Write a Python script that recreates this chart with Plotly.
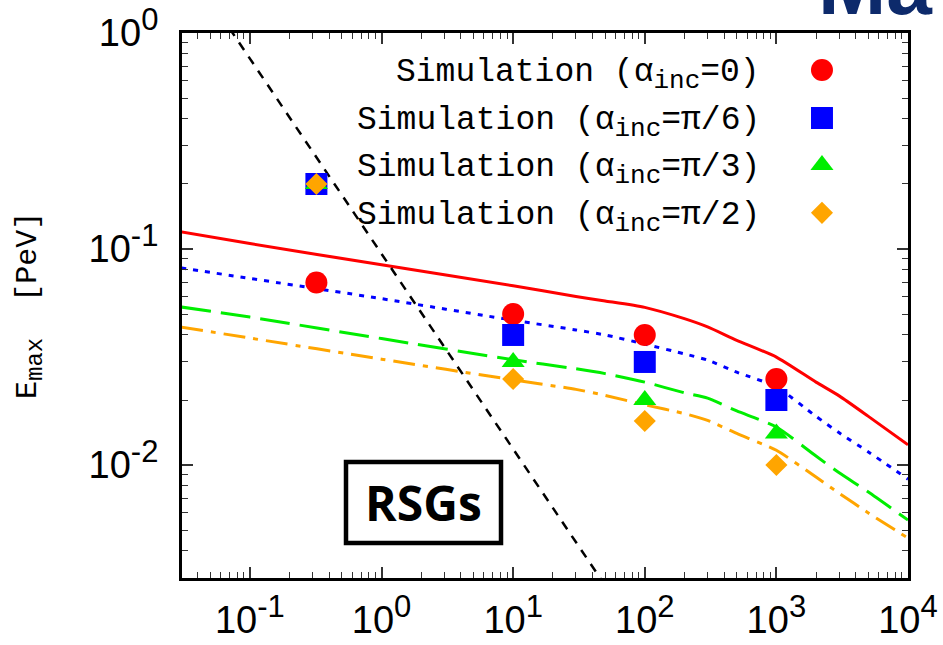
import plotly.graph_objects as go

# ---------------- data ----------------
sim_x = [0.32, 10, 100, 1000]
sim_a0 = [0.07, 0.05, 0.04, 0.025]
sim_a6 = [0.2, 0.04, 0.03, 0.02]
sim_a3 = [0.2, 0.03, 0.02, 0.014]
sim_a2 = [0.2, 0.025, 0.016, 0.01]

curve_x = [0.03, 0.1, 1, 10, 30, 50, 100, 200, 300, 500, 1000, 2000, 3000, 5000, 10000]
curve_a0 = [0.120, 0.106, 0.0845, 0.0676, 0.0603, 0.0575, 0.0537, 0.0476, 0.0436, 0.0378,
            0.0316, 0.0242, 0.0209, 0.0168, 0.0124]
curve_a6 = [0.0817, 0.0731, 0.0589, 0.0468, 0.0422, 0.0400, 0.0363, 0.0327, 0.0306, 0.0269,
            0.0230, 0.0168, 0.0141, 0.0115, 0.0086]
curve_a3 = [0.0539, 0.0484, 0.0385, 0.0307, 0.0279, 0.0265, 0.0242, 0.0216, 0.0204, 0.0178,
            0.0150, 0.0110, 0.0092, 0.0075, 0.00556]
curve_a2 = [0.0435, 0.0387, 0.0309, 0.0248, 0.0224, 0.0210, 0.0190, 0.0173, 0.0161, 0.0140,
            0.0117, 0.0088, 0.0074, 0.0060, 0.00459]

rsg_x = [0.07, 50]
rsg_y = [1.05, 0.00277]

SUB = "<sub><span style='font-size:26px'>inc</span></sub>"
legend_labels = [
    "Simulation (\u03b1" + SUB + "=0)",
    "Simulation (\u03b1" + SUB + "=\u03c0/6)",
    "Simulation (\u03b1" + SUB + "=\u03c0/3)",
    "Simulation (\u03b1" + SUB + "=\u03c0/2)",
]


def sup(e):
    return "10<sup><span style='font-size:31px'>" + e + "</span></sup>"


x_tickvals = [0.1, 1, 10, 100, 1000, 10000]
x_ticktext = [sup("-1"), sup("0"), sup("1"), sup("2"), sup("3"), sup("4")]
y_tickvals = [0.01, 0.1, 1]
y_ticktext = [sup("-2"), sup("-1"), sup("0")]

# ---------------- styles ----------------
RED, BLUE, GREEN, ORANGE = "#ff0000", "#0000ff", "#00ee00", "#ffa500"
colors = [RED, BLUE, GREEN, ORANGE]
symbols = ["circle", "square", "triangle-up", "diamond"]
msizes = [22, 22, 20, 17]
dashes = ["solid", "5px,7px", "30px,10px", "22px,8px,5px,8px"]

fig = go.Figure()

curves = [curve_a0, curve_a6, curve_a3, curve_a2]
for c, col, d in zip(curves, colors, dashes):
    fig.add_trace(go.Scatter(x=curve_x, y=c, mode="lines",
                             line=dict(color=col, width=3, dash=d, shape="spline", smoothing=0.6),
                             showlegend=False, hoverinfo="skip"))

fig.add_trace(go.Scatter(x=rsg_x, y=rsg_y, mode="lines",
                         line=dict(color="black", width=2.5, dash="9px,8px"),
                         showlegend=False, hoverinfo="skip"))

sims = [sim_a0, sim_a6, sim_a3, sim_a2]
for s, col, sym, ms in zip(sims, colors, symbols, msizes):
    fig.add_trace(go.Scatter(x=sim_x, y=s, mode="markers",
                             marker=dict(color=col, symbol=sym, size=ms, line=dict(width=0)),
                             showlegend=False))

# legend keys on an overlay axis (0..1 paper-like)
leg_y = [0.932, 0.844, 0.758, 0.670]
leg_key_x = 0.8815
for ly, col, sym, ms in zip(leg_y, colors, symbols, msizes):
    fig.add_trace(go.Scatter(x=[leg_key_x], y=[ly], mode="markers",
                             marker=dict(color=col, symbol=sym, size=ms, line=dict(width=0)),
                             xaxis="x2", yaxis="y2", showlegend=False, hoverinfo="skip"))

annotations = []
for ly, lab in zip(leg_y, legend_labels):
    annotations.append(dict(x=0.7985, y=ly - 0.009, xref="paper", yref="paper", text=lab,
                            showarrow=False, xanchor="right", yanchor="middle",
                            font=dict(family="Liberation Mono", size=33, color="black")))

annotations.append(dict(x=-0.210, y=0.5, xref="paper", yref="paper",
                        text="E<sub><span style='font-size:24px'>max</span></sub>\u00a0\u00a0[PeV]",
                        textangle=-90,
                        showarrow=False, xanchor="center", yanchor="middle",
                        font=dict(family="Liberation Mono", size=30, color="black")))

annotations.append(dict(x=0.3327, y=0.1385, xref="paper", yref="paper", text="<b>RSGs</b>",
                        showarrow=False, xanchor="center", yanchor="middle",
                        font=dict(family="Open Sans", size=48, color="black")))

annotations.append(dict(x=0.873, y=1.0, xref="paper", yref="paper", text="<b>Ma</b>",
                        showarrow=False, xanchor="left", yanchor="bottom",
                        font=dict(family="Liberation Sans", size=82, color="#0d2a6b")))

shapes = [dict(type="rect", xref="paper", yref="paper", x0=0.2259, x1=0.4394,
               y0=0.0642, y1=0.2128, line=dict(color="black", width=4.5))]

x_minor = [m * 10 ** k for k in range(-2, 4) for m in range(2, 10)]
y_minor = [m * 10 ** k for k in range(-3, 0) for m in range(2, 10)]

axis_common = dict(showline=True, linewidth=3, linecolor="black", mirror="allticks",
                   ticks="inside", ticklen=11, tickwidth=1.5, tickcolor="#333",
                   showgrid=False, zeroline=False, automargin=False,
                   tickfont=dict(family="Liberation Sans", size=38, color="black"))

fig.update_layout(
    width=943, height=645,
    margin=dict(l=182, r=35, t=33, b=67, autoexpand=False),
    paper_bgcolor="white", plot_bgcolor="white",
    showlegend=False,
    xaxis=dict(type="log", range=[-1.516, 4.0], tickmode="array",
               tickvals=x_tickvals, ticktext=x_ticktext, ticklabelstandoff=6,
               minor=dict(tickmode="array", tickvals=x_minor, ticks="inside",
                          ticklen=6, tickwidth=1.2, tickcolor="#333", showgrid=False),
               **axis_common),
    yaxis=dict(type="log", range=[-2.523, 0.0], tickmode="array",
               tickvals=y_tickvals, ticktext=y_ticktext, ticklabelstandoff=13,
               minor=dict(tickmode="array", tickvals=y_minor, ticks="inside",
                          ticklen=6, tickwidth=1.2, tickcolor="#333", showgrid=False),
               **axis_common),
    xaxis2=dict(range=[0, 1], overlaying="x", visible=False, fixedrange=True),
    yaxis2=dict(range=[0, 1], overlaying="y", visible=False, fixedrange=True),
    annotations=annotations,
    shapes=shapes,
)

fig.write_html("out.html")
